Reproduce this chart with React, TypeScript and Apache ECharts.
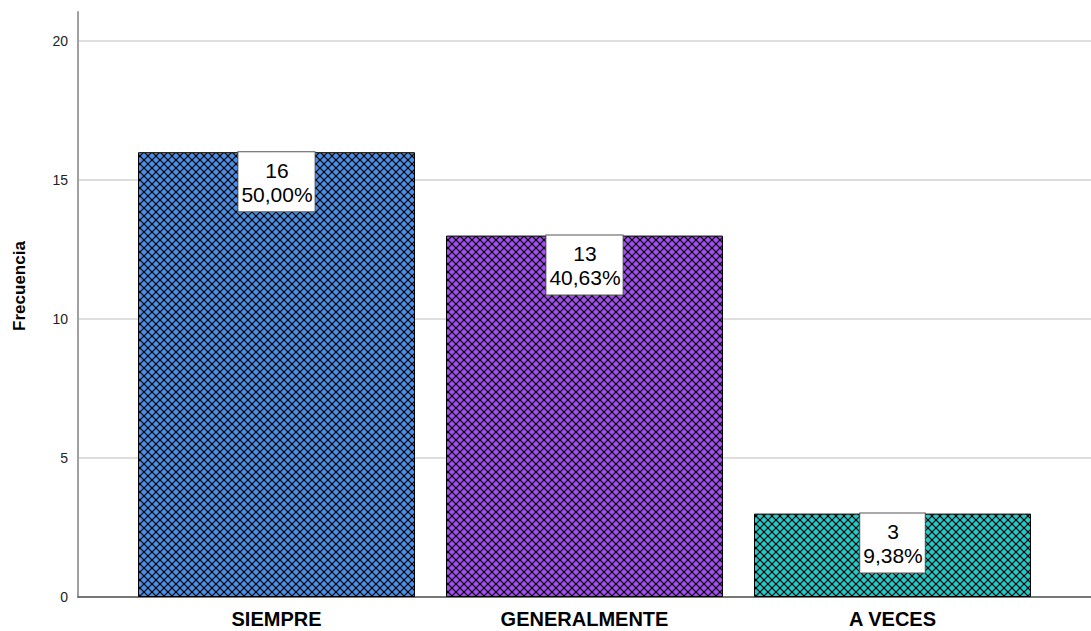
import React, { useEffect, useRef } from "react";
import * as echarts from "echarts";

const categories = ["SIEMPRE", "GENERALMENTE", "A VECES"];
const frequencies = [16, 13, 3];
const percents = [50.0, 40.63, 9.38];
const barColors = ["#4a8fe6", "#a34cf0", "#22c9c6"];
const yTicks = { min: 0, max: 20, interval: 5 };
const yTitle = "Frecuencia";

function makePattern(color: string): string {
  const s = 8;
  const c = document.createElement("canvas");
  c.width = s;
  c.height = s;
  const ctx = c.getContext("2d")!;
  ctx.fillStyle = color;
  ctx.fillRect(0, 0, s, s);
  ctx.strokeStyle = "#000";
  ctx.lineWidth = 1.2;
  for (const o of [-s, 0, s]) {
    ctx.beginPath();
    ctx.moveTo(o - 2, -2);
    ctx.lineTo(o + s + 2, s + 2);
    ctx.stroke();
    ctx.beginPath();
    ctx.moveTo(o + s + 2, -2);
    ctx.lineTo(o - 2, s + 2);
    ctx.stroke();
  }
  return c.toDataURL();
}

export default function App() {
  const ref = useRef<HTMLDivElement>(null);
  useEffect(() => {
    if (!ref.current) return;
    const chart = echarts.init(ref.current, undefined, { renderer: "svg" });
    const fmtPct = (p: number) => p.toFixed(2).replace(".", ",") + "%";
    const data = frequencies.map((v, i) => ({
      value: v,
      itemStyle: {
        color: { image: makePattern(barColors[i]), repeat: "repeat" },
        borderColor: "#000",
        borderWidth: 1,
      },
    }));
    chart.setOption({
      animation: false,
      backgroundColor: "#fff",
      textStyle: { fontFamily: "Liberation Sans, Arial, sans-serif" },
      graphic: [
        {
          type: "text",
          x: 19,
          y: 286,
          rotation: Math.PI / 2,
          style: {
            text: yTitle,
            fill: "#000",
            font: "bold 17px 'Liberation Sans', Arial, sans-serif",
            align: "center",
            verticalAlign: "middle",
          },
        },
      ],
      grid: [
        { left: 78, right: 0, top: 41, bottom: 34 },
        { left: 122.5, right: 44.5, top: 41, bottom: 34 },
        { left: 78, right: 0, top: 12, bottom: 34 },
      ],
      xAxis: [
        {
          gridIndex: 0,
          type: "category",
          data: categories,
          axisLabel: { show: false },
          axisTick: { show: false },
          axisLine: { show: true, lineStyle: { color: "#555", width: 1.5 } },
        },
        {
          gridIndex: 1,
          type: "category",
          data: categories,
          axisLine: { show: false },
          axisTick: { show: false },
          axisLabel: {
            color: "#000",
            fontWeight: "bold",
            fontSize: 20,
            margin: 12,
            fontFamily: "Liberation Sans, Arial, sans-serif",
          },
        },
        { gridIndex: 2, type: "value", show: false },
      ],
      yAxis: [
        {
          gridIndex: 0,
          type: "value",
          min: yTicks.min,
          max: yTicks.max,
          interval: yTicks.interval,
          axisLine: { show: false },
          axisTick: { show: false },
          axisLabel: { color: "#222", fontSize: 14, margin: 10 },
          splitLine: { lineStyle: { color: "#d3d3d3", width: 1.5 } },
        },
        {
          gridIndex: 1,
          type: "value",
          min: yTicks.min,
          max: yTicks.max,
          show: false,
        },
        {
          gridIndex: 2,
          type: "value",
          min: 0,
          max: 1,
          axisLine: { show: true, lineStyle: { color: "#a0a0a0", width: 2 } },
          axisTick: { show: false },
          axisLabel: { show: false },
          splitLine: { show: false },
        },
      ],
      series: [
        {
          type: "bar",
          xAxisIndex: 1,
          yAxisIndex: 1,
          barWidth: 277,
          data,
          label: {
            show: true,
            position: "insideTop",
            distance: 0,
            formatter: (p: any) => `${p.value}\n${fmtPct(percents[p.dataIndex])}`,
            color: "#000",
            fontSize: 21,
            lineHeight: 24,
            backgroundColor: "#fff",
            borderColor: "#555",
            borderWidth: 1,
            padding: [6, 2, 5, 3],
            fontFamily: "Liberation Sans, Arial, sans-serif",
          },
        },
      ],
    });
    return () => chart.dispose();
  }, []);
  return <div ref={ref} style={{ width: 1091, height: 631, position: "absolute", left: 0, top: 0 }} />;
}
